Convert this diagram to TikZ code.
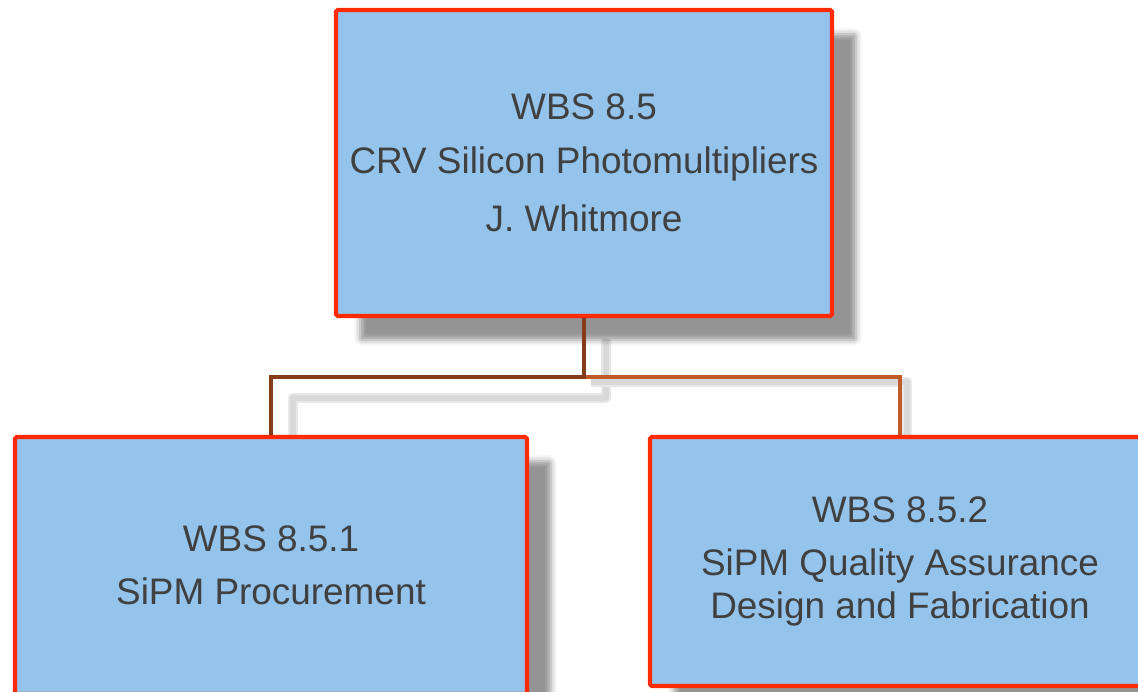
\documentclass[tikz,border=0pt]{standalone}
\usepackage{fontspec}
\setmainfont{Liberation Sans}
\usepackage{tikz}
\usetikzlibrary{positioning}
\usetikzlibrary{shadows.blur}
\usetikzlibrary{backgrounds}

\definecolor{wbsfill}{HTML}{94C4EC}
\definecolor{wbsedge}{HTML}{FF2A00}
\definecolor{wbstext}{HTML}{404040}
\definecolor{linkbrown}{HTML}{843C1A}
\definecolor{linkorange}{HTML}{C05A28}

\begin{document}
\begin{tikzpicture}[
    wbsbox/.style={draw=wbsedge, line width=2.3pt, fill=wbsfill, rounded corners=1pt,
      text=wbstext, align=center, inner sep=0pt,
      font=\fontsize{21}{24.5}\selectfont,
      blur shadow={shadow xshift=0.48cm, shadow yshift=-0.48cm,
        shadow blur radius=0.12cm, shadow opacity=42}},
    link/.style={line width=2.3pt},
    linkshadow/.style={line width=6pt, black!9, line join=round,
      postaction={draw, line width=3pt, black!15}}
  ]
  \useasboundingbox (0, 0) rectangle (22.76, 13.82);
  \clip (0, 0) rectangle (22.76, 13.82);

  % the three work packages
  \node [wbsbox, minimum width=9.92cm, minimum height=6.12cm] (top) at (11.68, 10.56)
    {WBS 8.5\\[6pt] CRV Silicon Photomultipliers\\[8.5pt] J. Whitmore};
  \node [wbsbox, minimum width=10.24cm, minimum height=5.14cm] (left) at (5.42, 2.51)
    {WBS 8.5.1\\[5.5pt] SiPM Procurement};
  \node [wbsbox, minimum width=10cm, minimum height=4.98cm] (right) at (18, 2.59)
    {WBS 8.5.2\\[6pt] SiPM Quality Assurance\\ Design and Fabrication};

  \coordinate (fork) at (11.68, 6.28);

  % shadows of the links, behind the boxes
  \begin{scope}[on background layer]
    \draw [linkshadow, transform canvas={xshift=0.44cm, yshift=-0.42cm}]
      (top.south) -- (fork) -| (left.north);
    \draw [linkshadow, transform canvas={xshift=0.14cm, yshift=-0.1cm}]
      (fork) -| (right.north);
  \end{scope}

  % links
  \draw [link, linkorange] (fork) -| (right.north);
  \draw [link, linkbrown] (top.south) -- (fork) -| (left.north);
\end{tikzpicture}
\end{document}
